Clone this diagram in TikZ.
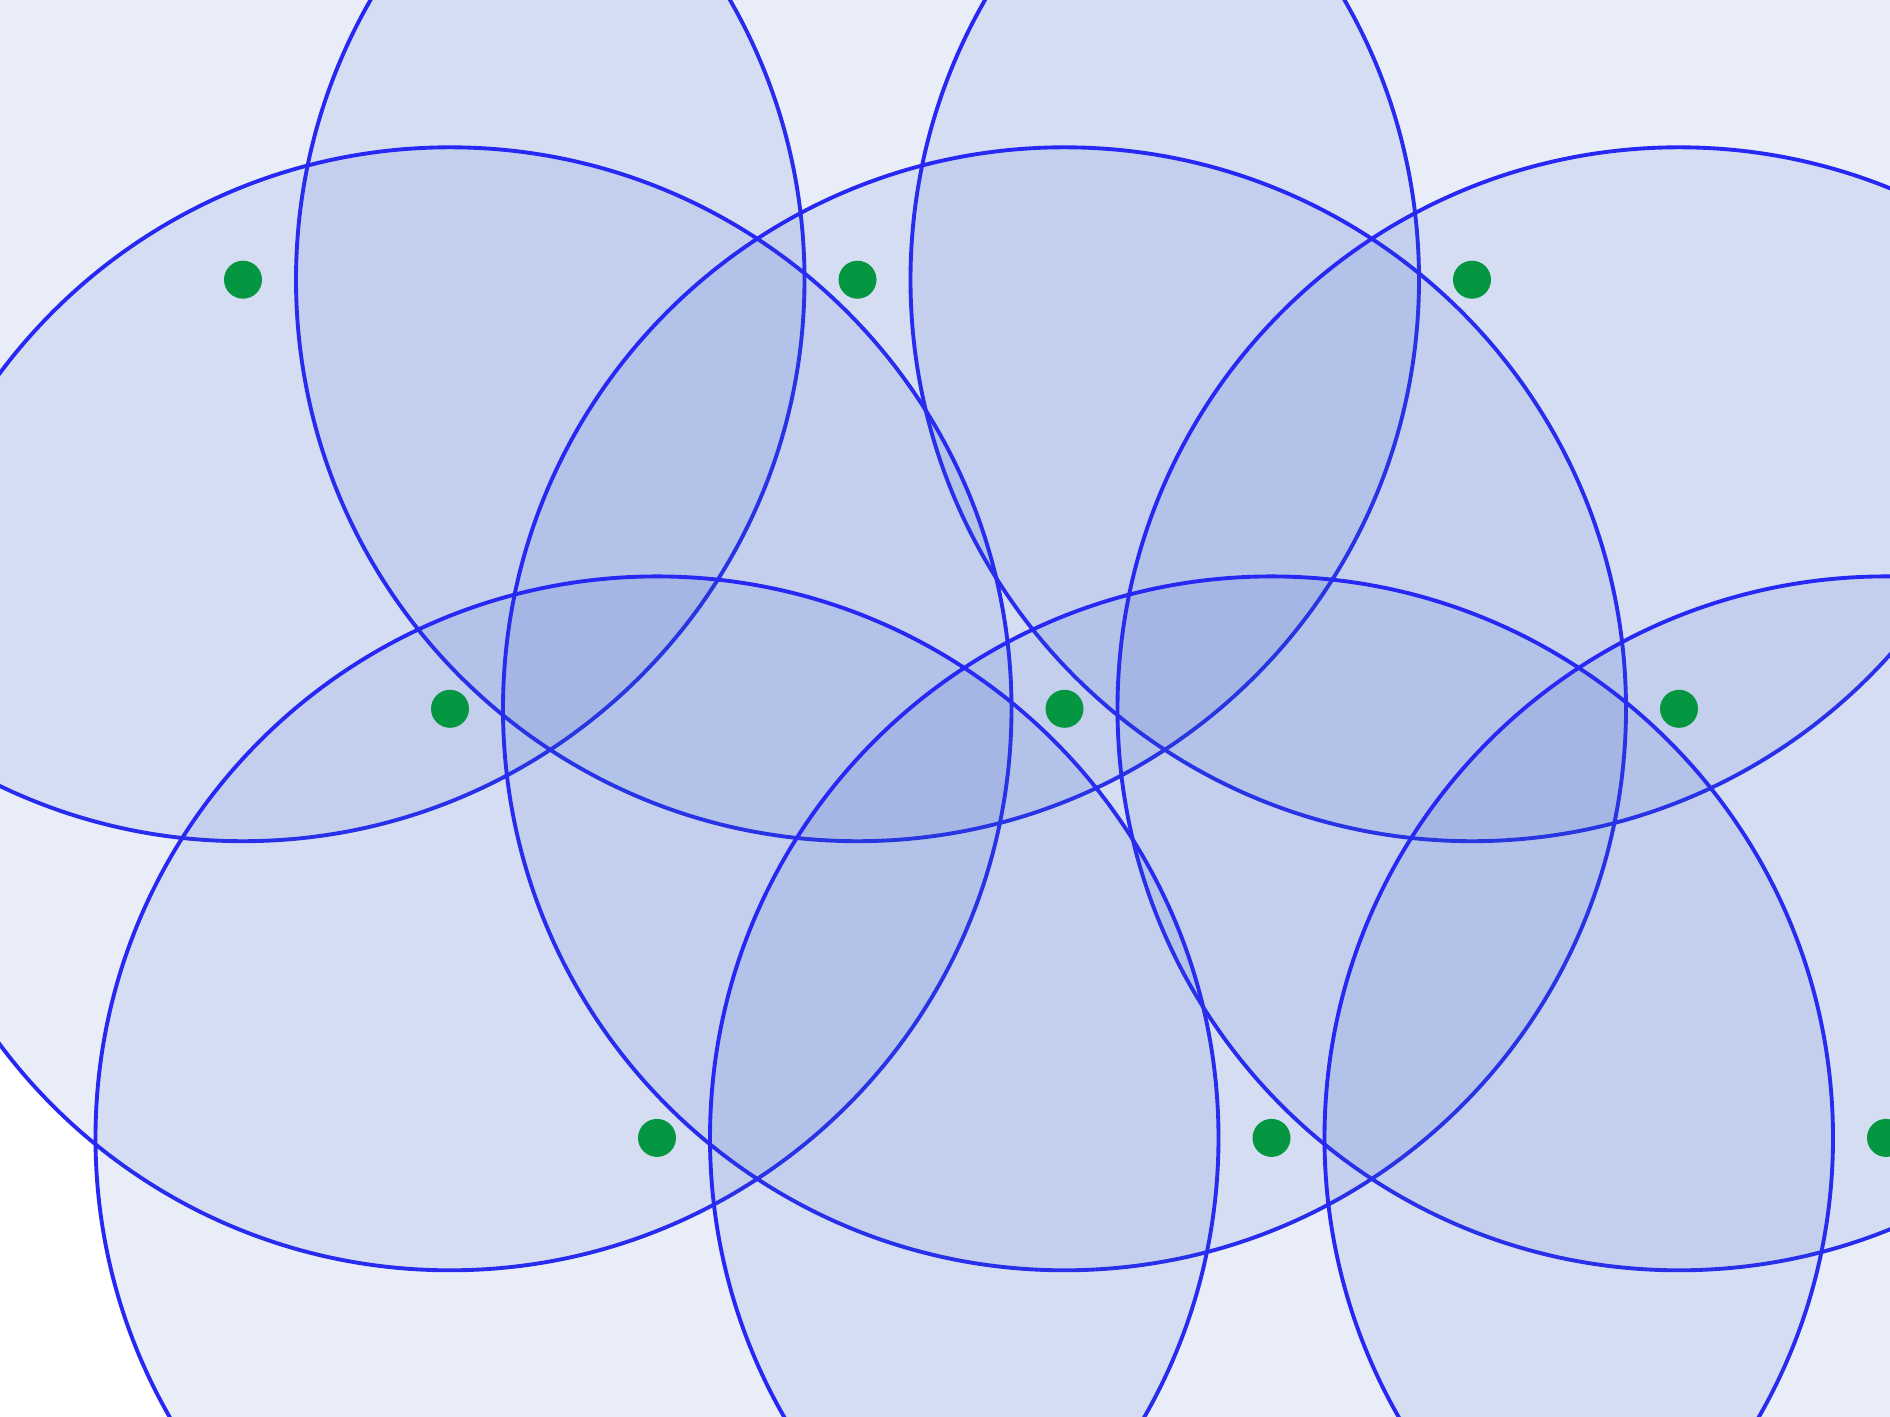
\documentclass[tikz,border=0pt]{standalone}
\definecolor{circfill}{RGB}{45,85,195}
\definecolor{circline}{RGB}{40,40,245}
\definecolor{dotgreen}{RGB}{4,150,64}
\begin{document}
\begin{tikzpicture}[
  disk/.style={fill=circfill, fill opacity=0.1, draw=circline, line width=1.1pt},
  latpt/.style={circle, fill=dotgreen, inner sep=0pt, minimum size=0.38cm}
]
\useasboundingbox (0,0) rectangle (18.9,-14.17);
\fill[white] (0,0) rectangle (18.9,-14.17);
\clip (0,0) rectangle (18.9,-14.17);
\foreach \r in {0,1,2}{
  \foreach \c in {0,1,2}{
    \coordinate (c\r\c) at ({2.43+6.145*\c+2.07*\r},{-2.797-4.291*\r});
  }
}
\foreach \r in {0,1,2}{
  \foreach \c in {0,1,2}{
    \draw[disk] (c\r\c) circle (5.615);
  }
}
\foreach \r in {0,1,2}{
  \foreach \c in {0,1,2}{
    \node[latpt] (p\r\c) at (c\r\c) {};
  }
}
\end{tikzpicture}
\end{document}
